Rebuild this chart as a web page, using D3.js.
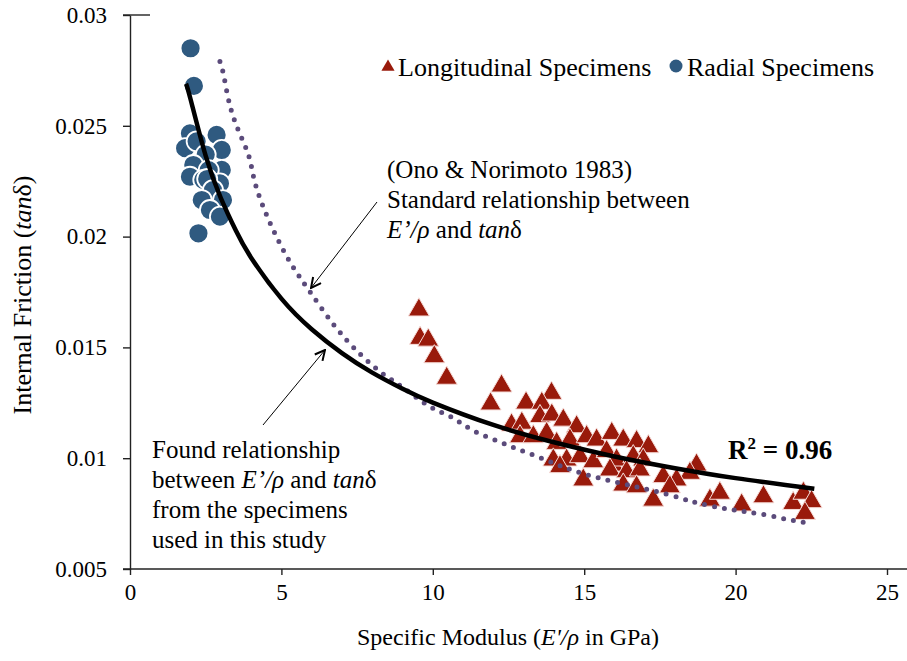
<!DOCTYPE html>
<html>
<head>
<meta charset="utf-8">
<script src="https://cdn.jsdelivr.net/npm/d3@7"></script>
<style>
body{margin:0;background:#fff}
text{font-family:"Liberation Serif","Times New Roman",serif;fill:#000}
</style>
</head>
<body>
<script>
// longitudinal specimens
var longX=[9.54,9.58,9.85,10.05,10.46,12.27,11.91,13.92,13.08,13.6,12.6,12.94,13.54,13.93,14.31,14.75,12.88,13.32,13.76,14.09,14.53,15.08,15.41,15.91,13.98,14.42,14.2,14.86,15.3,14.97,15.96,16.29,16.73,17.12,15.74,16.07,16.62,16.95,18.71,18.49,15.85,16.4,16.84,17.61,18.05,17.83,16.29,16.73,17.28,19.15,19.48,20.2,20.92,21.9,22.24,22.51,22.29]
var longY=[0.01669,0.01541,0.01533,0.01458,0.01361,0.01326,0.01245,0.01293,0.01249,0.01248,0.0115,0.01158,0.01188,0.01195,0.01172,0.01142,0.01097,0.01097,0.01112,0.01067,0.01082,0.01097,0.01082,0.01112,0.00992,0.00992,0.00962,0.01007,0.00984,0.00902,0.00969,0.01082,0.01075,0.01052,0.0103,0.00992,0.01007,0.00992,0.00969,0.00932,0.00947,0.00939,0.00947,0.00917,0.00902,0.00871,0.00879,0.00871,0.00811,0.00811,0.00842,0.00789,0.00826,0.00796,0.00842,0.00804,0.00751]

// radial specimens
var radX=[2.0,2.11,1.98,2.86,1.82,2.2,3.03,2.5,2.09,3.03,2.6,1.98,2.42,2.97,2.55,2.74,2.37,3.07,2.64,2.97,2.26]
var radY=[0.0285,0.0268,0.02466,0.02459,0.02399,0.0243,0.02391,0.0237,0.02323,0.02301,0.0230,0.0227,0.02256,0.0224,0.0226,0.0221,0.02165,0.02165,0.0212,0.0209,0.02015]

// found relationship (solid black curve)
var fitX=[1.85,2.0,2.5,3.0,3.5,4.0,5.0,6.0,7.0,8.0,9.0,10,12,14,16,18,20,22.6]
var fitY=[0.0269,0.0262,0.02364,0.02174,0.02026,0.01905,0.0172,0.01582,0.01474,0.01386,0.01313,0.01251,0.0115,0.01072,0.01008,0.00955,0.0091,0.00862]

// Ono & Norimoto 1983 (dotted curve)
var onoX=[2.97,3.08,3.22,3.41,3.69,3.96,4.2,4.8,5.4,6.0,6.8,7.6,8.3,9.0,9.9,10.6,11.2,11.9,12.6,13.3,14.0,14.6,15.3,16.0,16.7,17.4,18.2,18.8,19.6,20.3,21.0,21.7,22.3]
var onoY=[0.0279,0.02737,0.02639,0.02541,0.02444,0.02346,0.0221,0.0201,0.0186,0.0174,0.0159,0.0147,0.01386,0.0132,0.01233,0.01187,0.01135,0.0109,0.01052,0.01015,0.00977,0.00947,0.00917,0.00894,0.00871,0.00849,0.00819,0.00796,0.00774,0.00759,0.00744,0.00724,0.0071]

var xTicks=[0,5,10,15,20,25]
var yTicks=[0.005,0.01,0.015,0.02,0.025,0.03]

var width=907, height=661
var red="#991a0b", blue="#2f5a80", purple="#5b4b7b"

var svg=d3.select("body").append("svg")
  .attr("width",width)
  .attr("height",height)

var x=d3.scaleLinear().domain([0,25]).range([130,887])
var y=d3.scaleLinear().domain([0.005,0.03]).range([569,15])

// axes
var xAxis=svg.append("g")
  .attr("transform","translate(0,"+y(0.005)+")")
  .call(d3.axisBottom(x).tickValues(xTicks).tickSize(6).tickSizeOuter(0).tickPadding(9).tickFormat(d3.format("d")))
xAxis.select(".domain").remove()
xAxis.append("line").attr("x1",123).attr("x2",907).attr("stroke","#222").attr("stroke-width",1.4)

var yAxis=svg.append("g")
  .attr("transform","translate("+x(0)+",0)")
  .call(d3.axisLeft(y).tickValues(yTicks).tickSize(7).tickSizeOuter(0).tickPadding(16).tickFormat(function(d){return String(+d.toFixed(3))}))

svg.selectAll(".tick line").attr("stroke","#222").attr("stroke-width",1.4)
svg.selectAll(".domain").attr("stroke","#222").attr("stroke-width",1.4)
svg.selectAll(".tick text").style("font-family","Liberation Serif").style("font-size","23px").attr("fill","#000")

svg.append("line").attr("x1",123).attr("x2",150).attr("y1",y(0.03)).attr("y2",y(0.03))
  .attr("stroke","#222").attr("stroke-width",1.4)

// points
var radial=radX.map(function(d,i){return {x:d,y:radY[i]}})
var longit=longX.map(function(d,i){return {x:d,y:longY[i]}})

svg.append("g").selectAll("circle")
  .data(radial).enter().append("circle")
  .attr("cx",function(d){return x(d.x)})
  .attr("cy",function(d){return y(d.y)})
  .attr("r",10)
  .attr("fill",blue)
  .attr("stroke","#fff")
  .attr("stroke-width",1.8)

var tri=d3.symbol().type(d3.symbolTriangle).size(190)
svg.append("g").selectAll("path")
  .data(longit).enter().append("path")
  .attr("d",tri)
  .attr("transform",function(d){return "translate("+x(d.x)+","+y(d.y)+")"})
  .attr("fill",red)
  .attr("stroke","#f6dcd8")
  .attr("stroke-width",1)

// curves
var line=d3.line().x(function(d){return x(d[0])}).y(function(d){return y(d[1])}).curve(d3.curveNatural)

svg.append("path")
  .attr("d",line(onoX.map(function(d,i){return [d,onoY[i]]})))
  .attr("fill","none")
  .attr("stroke",purple)
  .attr("stroke-width",5)
  .attr("stroke-linecap","round")
  .attr("stroke-dasharray","0 10")

svg.append("path")
  .attr("d",line(fitX.map(function(d,i){return [d,fitY[i]]})))
  .attr("fill","none")
  .attr("stroke","#000")
  .attr("stroke-width",4.5)

// arrows
var defs=svg.append("defs")
defs.append("marker").attr("id","arr")
  .attr("viewBox","0 0 12 12").attr("refX",11).attr("refY",6)
  .attr("markerWidth",12).attr("markerHeight",12).attr("markerUnits","userSpaceOnUse")
  .attr("orient","auto")
  .append("path").attr("d","M1,1 L11,6 L1,11").attr("fill","none").attr("stroke","#000").attr("stroke-width",2)

svg.append("line").attr("x1",377).attr("y1",202).attr("x2",311).attr("y2",288)
  .attr("stroke","#000").attr("stroke-width",1).attr("marker-end","url(#arr)")
svg.append("line").attr("x1",263).attr("y1",425).attr("x2",325).attr("y2",350)
  .attr("stroke","#000").attr("stroke-width",1).attr("marker-end","url(#arr)")

// annotation text
function ep(t){
  t.append("tspan").style("font-style","italic").text("E’/ρ")
}
svg.append("text").attr("x",387).attr("y",178).style("font-size","25px").text("(Ono & Norimoto 1983)")
svg.append("text").attr("x",387).attr("y",208).style("font-size","25px").text("Standard relationship between")
var a3=svg.append("text").attr("x",387).attr("y",238).style("font-size","25px")
ep(a3); a3.append("tspan").text(" and "); a3.append("tspan").style("font-style","italic").text("tan"); a3.append("tspan").text("δ")

svg.append("text").attr("x",152).attr("y",458).style("font-size","25px").text("Found relationship")
var b2=svg.append("text").attr("x",152).attr("y",488).style("font-size","25px")
b2.append("tspan").text("between "); ep(b2); b2.append("tspan").text(" and "); b2.append("tspan").style("font-style","italic").text("tan"); b2.append("tspan").text("δ")
svg.append("text").attr("x",152).attr("y",518).style("font-size","25px").text("from the specimens")
svg.append("text").attr("x",152).attr("y",548).style("font-size","25px").text("used in this study")

var r2=svg.append("text").attr("x",728).attr("y",459).style("font-size","27px").style("font-weight","bold")
r2.append("tspan").text("R")
r2.append("tspan").attr("dy",-10).style("font-size","17px").text("2")
r2.append("tspan").attr("dy",10).text(" = 0.96")

// legend
svg.append("path").attr("d",d3.symbol().type(d3.symbolTriangle).size(75))
  .attr("transform","translate(388,67)").attr("fill",red)
svg.append("text").attr("x",398).attr("y",76).style("font-size","26px").text("Longitudinal Specimens")
svg.append("circle").attr("cx",676).attr("cy",66).attr("r",6.5).attr("fill",blue)
svg.append("text").attr("x",687).attr("y",76).style("font-size","26px").text("Radial Specimens")

// axis titles
var xt=svg.append("text").attr("x",508).attr("y",645).attr("text-anchor","middle").style("font-size","24px")
xt.append("tspan").text("Specific Modulus (")
xt.append("tspan").style("font-style","italic").text("E'/ρ")
xt.append("tspan").text(" in GPa)")

var yt=svg.append("text").attr("transform","translate(31,295) rotate(-90)").attr("text-anchor","middle").style("font-size","26px")
yt.append("tspan").text("Internal Friction (")
yt.append("tspan").style("font-style","italic").text("tan")
yt.append("tspan").text("δ)")
</script>
</body>
</html>
